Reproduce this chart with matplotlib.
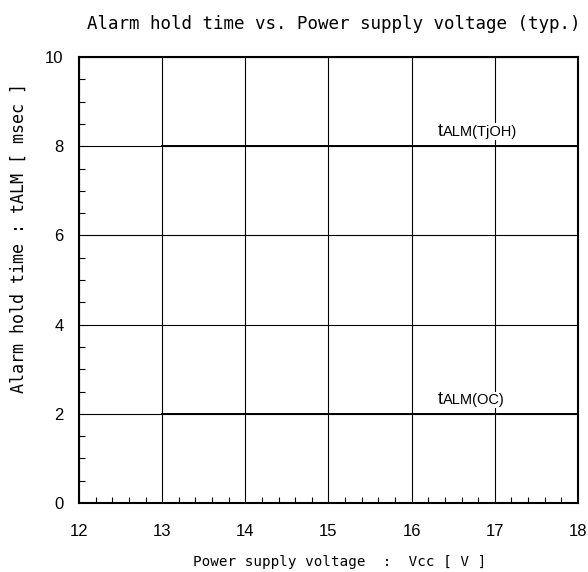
import matplotlib
matplotlib.use("Agg")
import matplotlib.pyplot as plt
from matplotlib.ticker import MultipleLocator

# Data
voltage = [13, 18]
t_alm_tjoh = [8, 8]
t_alm_oc = [2, 2]
x_ticks = [12, 13, 14, 15, 16, 17, 18]
y_ticks = [0, 2, 4, 6, 8, 10]
title = "Alarm hold time vs. Power supply voltage (typ.)"
xlabel = "Power supply voltage  :  Vcc [ V ]"
ylabel = "Alarm hold time : tALM [ msec ]"

fig = plt.figure(figsize=(5.88, 5.72), dpi=100)
ax = fig.add_axes([79/588, 1-503/572, (578-79)/588, (503-57)/572])

ax.set_xlim(12, 18)
ax.set_ylim(0, 10)
ax.set_xticks(x_ticks)
ax.set_yticks(y_ticks)
ax.xaxis.set_minor_locator(MultipleLocator(0.2))
ax.yaxis.set_minor_locator(MultipleLocator(0.5))
ax.tick_params(which='major', length=0, labelsize=12, pad=11)
ax.tick_params(axis='x', which='major', pad=15)
ax.tick_params(which='minor', direction='in', length=4, width=0.8, color='black')
for lab in ax.get_xticklabels() + ax.get_yticklabels():
    lab.set_family('Liberation Sans')

ax.grid(True, which='major', color='black', linewidth=0.8)
for s in ax.spines.values():
    s.set_linewidth(1.5)
    s.set_color('black')

ax.plot(voltage, t_alm_tjoh, color='black', linewidth=1.4, zorder=3)
ax.plot(voltage, t_alm_oc, color='black', linewidth=1.4, zorder=3)

bb = dict(facecolor='white', edgecolor='none', pad=1)
for yv, sub in [(8.23, "ALM(TjOH)"), (2.22, "ALM(OC)")]:
    ax.annotate(sub, xy=(16.31, yv), xytext=(3.8, 0), textcoords='offset points',
                fontsize=10.5, family='Liberation Sans', va='baseline', ha='left',
                bbox=bb, zorder=4)
    ax.text(16.31, yv, "t", fontsize=13, family='Liberation Sans',
            va='baseline', ha='left', zorder=5)

fig.text(334/588, 1-24/572, title, family='DejaVu Sans Mono', fontsize=12.6,
         ha='center', va='center')
fig.text(340/588, 1-562/572, xlabel, family='DejaVu Sans Mono', fontsize=10.3,
         ha='center', va='center')
fig.text(19/588, 1-238/572, ylabel, family='DejaVu Sans Mono', fontsize=12,
         ha='center', va='center', rotation=90)

fig.savefig("out.png", dpi=100)
